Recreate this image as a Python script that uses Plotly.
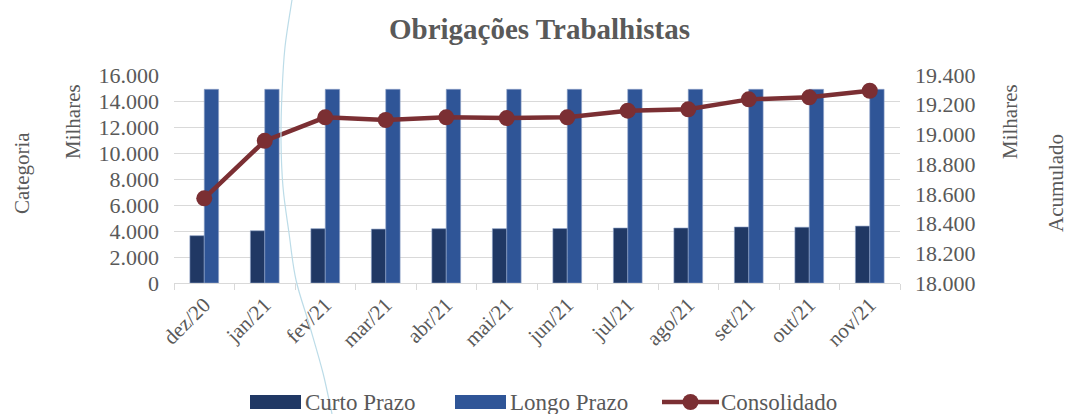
import plotly.graph_objects as go

categorias = ["dez/20", "jan/21", "fev/21", "mar/21", "abr/21", "mai/21",
              "jun/21", "jul/21", "ago/21", "set/21", "out/21", "nov/21"]
curto_prazo = [3640, 4020, 4180, 4150, 4180, 4180, 4190, 4230, 4230, 4310, 4290, 4380]
longo_prazo = [14900, 14900, 14900, 14900, 14900, 14900, 14900, 14900, 14900, 14900, 14900, 14900]
consolidado = [18570, 18957, 19115, 19097, 19115, 19110, 19115, 19160, 19169, 19236, 19250, 19294]

left_ticks = list(range(0, 16001, 2000))
right_ticks = list(range(18000, 19401, 200))

C_CURTO = "#203864"
C_LONGO = "#2f5597"
C_CONS = "#7b2f33"
TXT = "#595959"
FONT = "Liberation Serif"

W, H = 1068, 414
L, R, T, B = 174, 168, 75, 131
PW, PH = W - L - R, H - T - B


def px2paper(x, y):
    return (x - L) / PW, (H - B - y) / PH


fig = go.Figure()
fig.add_trace(go.Bar(x=categorias, y=curto_prazo, name="Curto Prazo",
                     marker=dict(color=C_CURTO, line=dict(color="#8ea3c8", width=0.6)),
                     showlegend=False))
fig.add_trace(go.Bar(x=categorias, y=longo_prazo, name="Longo Prazo",
                     marker=dict(color=C_LONGO, line=dict(color="#8ea3c8", width=0.6)),
                     showlegend=False))
fig.add_trace(go.Scatter(x=categorias, y=consolidado, name="Consolidado", yaxis="y2",
                         mode="lines+markers",
                         line=dict(color=C_CONS, width=4.5),
                         marker=dict(color=C_CONS, size=16),
                         showlegend=False))

fig.update_layout(
    width=W, height=H,
    margin=dict(l=L, r=R, t=T, b=B, autoexpand=False),
    paper_bgcolor="white", plot_bgcolor="white",
    separators=",.",
    barmode="group", bargap=0.525, bargroupgap=0,
    font=dict(family=FONT, size=21, color=TXT),
    xaxis=dict(range=[-0.5, len(categorias) - 0.5], tickangle=-45, showgrid=False,
               showline=True, linecolor="#d9d9d9",
               linewidth=1.3, ticks="outside", tickson="boundaries", ticklen=6,
               tickcolor="#d9d9d9", tickfont=dict(size=21, color=TXT), automargin=False),
    yaxis=dict(range=[0, 16000], tickvals=left_ticks, tickformat=",d",
               showgrid=True, gridcolor="#d9d9d9", gridwidth=1.3, zeroline=False,
               ticklabelstandoff=14, tickfont=dict(size=22, color=TXT), automargin=False),
    yaxis2=dict(range=[18000, 19400], tickvals=right_ticks, tickformat=",d",
                overlaying="y", side="right", showgrid=False, zeroline=False,
                ticklabelstandoff=14, tickfont=dict(size=22, color=TXT), automargin=False),
)

tx, ty = px2paper(539, 29)
fig.add_annotation(text="<b>Obrigações Trabalhistas</b>", x=tx, y=ty, xref="paper",
                   yref="paper", showarrow=False, xanchor="center", yanchor="middle",
                   font=dict(size=29, color=TXT, family=FONT))

# axis titles
ann = [
    ("Categoria", 22, 173),
    ("Milhares", 73, 122),
    ("Milhares", 1010, 122),
    ("Acumulado", 1056, 183),
]
for txt, x, y in ann:
    xp, yp = px2paper(x, y)
    fig.add_annotation(text=txt, x=xp, y=yp, xref="paper", yref="paper",
                       showarrow=False, textangle=-90, font=dict(size=21, color=TXT),
                       xanchor="center", yanchor="middle")

# custom legend
legend_items = [("Curto Prazo", C_CURTO, 250, "bar"),
                ("Longo Prazo", C_LONGO, 455, "bar"),
                ("Consolidado", C_CONS, 662, "line")]
ly = 402
for name, col, x0, kind in legend_items:
    if kind == "bar":
        a = px2paper(x0, ly - 7)
        b = px2paper(x0 + 51, ly + 7)
        fig.add_shape(type="rect", xref="paper", yref="paper", x0=a[0], y0=a[1],
                      x1=b[0], y1=b[1], fillcolor=col, line=dict(width=0))
        lx = x0 + 53
    else:
        a = px2paper(x0, ly)
        b = px2paper(x0 + 57, ly)
        fig.add_shape(type="line", xref="paper", yref="paper", x0=a[0], y0=a[1],
                      x1=b[0], y1=b[1], line=dict(color=col, width=4.5))
        c0 = px2paper(x0 + 20.5, ly - 8)
        c1 = px2paper(x0 + 36.5, ly + 8)
        fig.add_shape(type="circle", xref="paper", yref="paper", x0=c0[0], y0=c0[1],
                      x1=c1[0], y1=c1[1], fillcolor=col, line=dict(width=0))
        lx = x0 + 57
    tp = px2paper(lx, ly)
    fig.add_annotation(text=name, x=tp[0], y=tp[1], xref="paper", yref="paper",
                       showarrow=False, xanchor="left", yanchor="middle",
                       font=dict(size=23, color=TXT))

# thin light-blue arc seen in the reference image
arc = [(292, 0), (285, 47), (282, 93), (281, 140), (283, 187), (289, 233),
       (296, 280), (310, 327), (323, 373), (332, 414)]
pts = [px2paper(x, y) for x, y in arc]
path = "M {} {}".format(*pts[0])
for i in range(len(pts) - 1):
    p0 = pts[i - 1] if i > 0 else pts[i]
    p1 = pts[i]
    p2 = pts[i + 1]
    p3 = pts[i + 2] if i + 2 < len(pts) else pts[i + 1]
    c1 = (p1[0] + (p2[0] - p0[0]) / 6, p1[1] + (p2[1] - p0[1]) / 6)
    c2 = (p2[0] - (p3[0] - p1[0]) / 6, p2[1] - (p3[1] - p1[1]) / 6)
    path += " C {} {}, {} {}, {} {}".format(c1[0], c1[1], c2[0], c2[1], p2[0], p2[1])
fig.add_shape(type="path", path=path, xref="paper", yref="paper",
              line=dict(color="#bcdce8", width=1.2), layer="above")

fig.write_html(
    "out.html",
    config={"displayModeBar": False},
    post_script="document.body.style.margin='0';document.body.style.overflow='hidden';",
)
